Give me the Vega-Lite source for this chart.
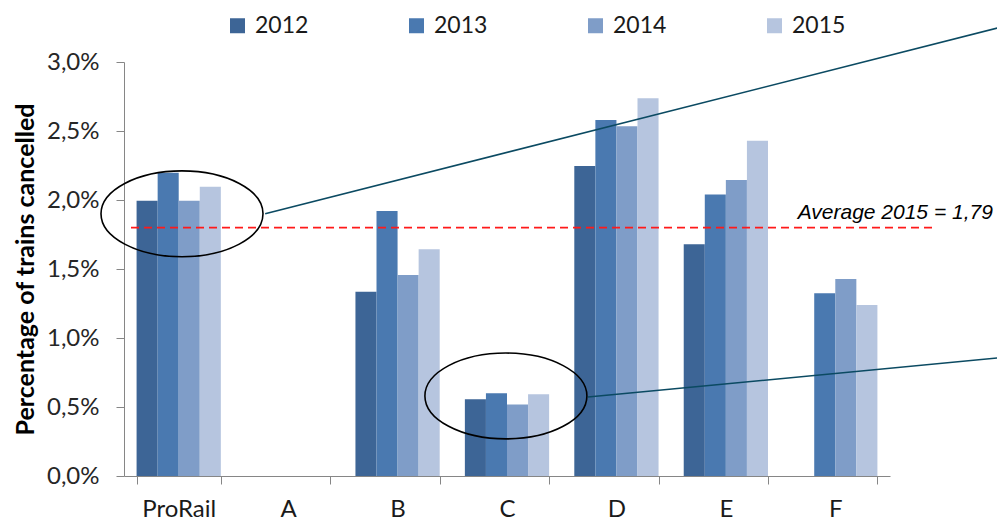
{
  "$schema": "https://vega.github.io/schema/vega-lite/v6.json",
  "autosize": {"type": "none"},
  "padding": {"left": 124, "top": 62, "right": 107, "bottom": 47},
  "width": 766,
  "height": 414,
  "background": "white",
  "config": {"view": {"stroke": null}},
  "datasets": {
    "bars": [
      {"operator": "ProRail", "year": "2012", "pct": 1.995},
      {"operator": "ProRail", "year": "2013", "pct": 2.198},
      {"operator": "ProRail", "year": "2014", "pct": 1.995},
      {"operator": "ProRail", "year": "2015", "pct": 2.096},
      {"operator": "B", "year": "2012", "pct": 1.336},
      {"operator": "B", "year": "2013", "pct": 1.92},
      {"operator": "B", "year": "2014", "pct": 1.457},
      {"operator": "B", "year": "2015", "pct": 1.643},
      {"operator": "C", "year": "2012", "pct": 0.556},
      {"operator": "C", "year": "2013", "pct": 0.599},
      {"operator": "C", "year": "2014", "pct": 0.519},
      {"operator": "C", "year": "2015", "pct": 0.592},
      {"operator": "D", "year": "2012", "pct": 2.246},
      {"operator": "D", "year": "2013", "pct": 2.58},
      {"operator": "D", "year": "2014", "pct": 2.534},
      {"operator": "D", "year": "2015", "pct": 2.737},
      {"operator": "E", "year": "2012", "pct": 1.679},
      {"operator": "E", "year": "2013", "pct": 2.04},
      {"operator": "E", "year": "2014", "pct": 2.145},
      {"operator": "E", "year": "2015", "pct": 2.43},
      {"operator": "F", "year": "2013", "pct": 1.324},
      {"operator": "F", "year": "2014", "pct": 1.428},
      {"operator": "F", "year": "2015", "pct": 1.239}
    ],
    "leaders": [
      {"x": 1.29, "y": 1.9, "x2": 7.98, "y2": 3.246},
      {"x": 4.24, "y": 0.572, "x2": 7.98, "y2": 0.855}
    ],
    "average": [
      {"x": 0.064, "x2": 7.39, "y": 1.8, "label": "Average 2015 = 1,79", "labelx": 7.94}
    ],
    "ellipses": [
      {"x": 0.53, "y": 1.9},
      {"x": 3.49, "y": 0.58}
    ]
  },
  "layer": [
    {
      "data": {"name": "bars"},
      "mark": {"type": "bar"},
      "encoding": {
        "x": {
          "field": "operator", "type": "nominal",
          "scale": {"domain": ["ProRail", "A", "B", "C", "D", "E", "F"], "paddingInner": 0.23, "paddingOuter": 0.115},
          "axis": {
            "title": null, "labelAngle": 0, "labelFont": "Lato", "labelFontSize": 24,
            "labelColor": "#1a1a1a", "labelPadding": 13, "domainColor": "#868686",
            "tickColor": "#868686", "tickSize": 8, "tickBand": "extent"
          }
        },
        "xOffset": {"field": "year", "type": "nominal", "scale": {"domain": ["2012", "2013", "2014", "2015"]}},
        "y": {
          "field": "pct", "type": "quantitative",
          "scale": {"domain": [0, 3], "nice": false},
          "axis": {
            "title": "Percentage of trains cancelled", "values": [0, 0.5, 1, 1.5, 2, 2.5, 3],
            "labelExpr": "replace(format(datum.value, '.1f'), '.', ',') + '%'",
            "grid": false, "labelFont": "Lato", "labelFontSize": 24, "labelColor": "#262626",
            "labelPadding": 17, "domainColor": "#868686", "tickColor": "#868686", "tickSize": 8,
            "titleFont": "Lato", "titleFontSize": 25, "titleFontWeight": "bold", "titleColor": "#000000",
            "titlePadding": 8
          }
        },
        "color": {
          "field": "year", "type": "nominal",
          "scale": {"domain": ["2012", "2013", "2014", "2015"], "range": ["#3d6596", "#4a79b0", "#7f9dc8", "#b6c5df"]},
          "legend": {
            "title": null, "orient": "none", "direction": "horizontal", "columns": 4,
            "legendX": 102, "legendY": -48, "symbolType": "square", "symbolSize": 225,
            "symbolStrokeWidth": 0, "labelFont": "Lato", "labelFontSize": 23, "labelColor": "#1a1a1a",
            "labelOffset": 6, "columnPadding": 96, "padding": 0
          }
        }
      }
    },
    {
      "data": {"name": "leaders"},
      "mark": {"type": "rule", "color": "#0b4a62", "strokeWidth": 1.6},
      "encoding": {
        "x": {"field": "x", "type": "quantitative", "scale": {"domain": [0, 7], "nice": false, "zero": false}, "axis": null},
        "x2": {"field": "x2"},
        "y": {"field": "y", "type": "quantitative"},
        "y2": {"field": "y2"}
      }
    },
    {
      "data": {"name": "average"},
      "mark": {"type": "rule", "color": "#ff1a1a", "strokeWidth": 1.6, "strokeDash": [8, 5]},
      "encoding": {
        "x": {"field": "x", "type": "quantitative", "scale": {"domain": [0, 7], "nice": false, "zero": false}, "axis": null},
        "x2": {"field": "x2"},
        "y": {"field": "y", "type": "quantitative"}
      }
    },
    {
      "data": {"name": "average"},
      "mark": {"type": "text", "align": "right", "baseline": "alphabetic", "dy": -9, "font": "Liberation Sans", "fontSize": 21, "fontStyle": "italic", "color": "#000000"},
      "encoding": {
        "x": {"field": "labelx", "type": "quantitative", "scale": {"domain": [0, 7], "nice": false, "zero": false}, "axis": null},
        "y": {"field": "y", "type": "quantitative"},
        "text": {"field": "label"}
      }
    },
    {
      "data": {"name": "ellipses"},
      "mark": {
        "type": "point", "filled": false, "opacity": 1, "stroke": "#000000", "strokeWidth": 1.6, "size": 26244,
        "shape": "M -1 0 C -1 -0.2927 -0.5523 -0.53 0 -0.53 C 0.5523 -0.53 1 -0.2927 1 0 C 1 0.2927 0.5523 0.53 0 0.53 C -0.5523 0.53 -1 0.2927 -1 0 Z"
      },
      "encoding": {
        "x": {"field": "x", "type": "quantitative", "scale": {"domain": [0, 7], "nice": false, "zero": false}, "axis": null},
        "y": {"field": "y", "type": "quantitative"}
      }
    }
  ],
  "resolve": {"scale": {"x": "independent"}}
}
